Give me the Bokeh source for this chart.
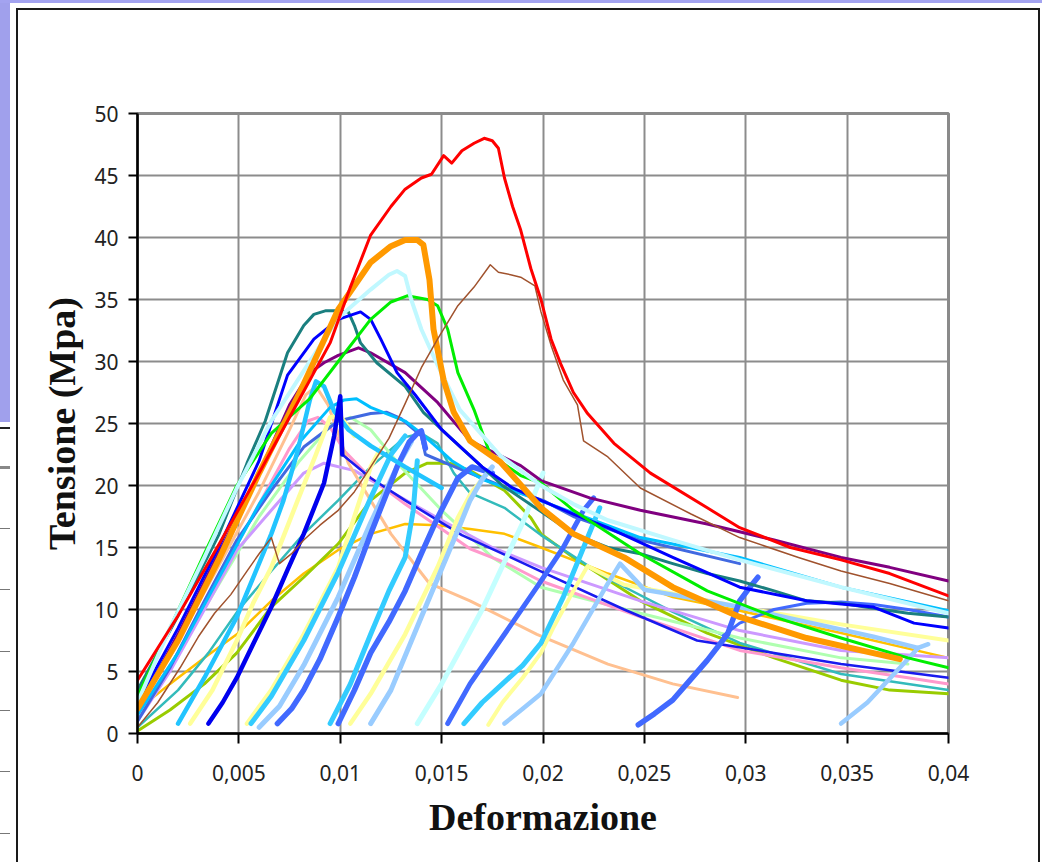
from bokeh.plotting import figure
from bokeh.models import Range1d, FixedTicker
from bokeh.embed import file_html
from bokeh.resources import INLINE

# ---------------- axis ticks ----------------
x_ticks = [0, 0.005, 0.01, 0.015, 0.02, 0.025, 0.03, 0.035, 0.04]
x_tick_labels = ["0", "0,005", "0,01", "0,015", "0,02", "0,025", "0,03", "0,035", "0,04"]
y_ticks = [0, 5, 10, 15, 20, 25, 30, 35, 40, 45, 50]

# ---------------- full curves ----------------
red_x = [0, 0.002, 0.004, 0.006, 0.008, 0.0095, 0.0105, 0.0115, 0.0125, 0.0132, 0.014, 0.0145, 0.0151, 0.0155, 0.016, 0.0166, 0.0171, 0.0175, 0.0178, 0.0181, 0.0185, 0.0189, 0.0194, 0.0199, 0.0204, 0.0209, 0.0215, 0.0222, 0.0235, 0.0253, 0.0281, 0.0297, 0.0322, 0.0347, 0.0371, 0.04]
red_y = [4.3, 9.5, 15.2, 21.0, 27.0, 31.5, 36.0, 40.2, 42.5, 43.9, 44.8, 45.1, 46.6, 46.0, 47.0, 47.6, 48.0, 47.8, 47.2, 44.8, 42.5, 40.6, 37.5, 35.0, 31.8, 29.7, 27.5, 25.8, 23.4, 21.0, 18.2, 16.6, 15.0, 14.0, 12.9, 11.1]

brown_x = [0, 0.001, 0.0021, 0.003, 0.0038, 0.0046, 0.0054, 0.006, 0.0066, 0.007, 0.0076, 0.0082, 0.009, 0.0099, 0.0107, 0.0115, 0.0124, 0.0132, 0.014, 0.0148, 0.0158, 0.0166, 0.0174, 0.0178, 0.0184, 0.0189, 0.0196, 0.0199, 0.0204, 0.021, 0.0217, 0.022, 0.0232, 0.0248, 0.0273, 0.0297, 0.0326, 0.0347, 0.0371, 0.04]
brown_y = [0.5, 2.5, 5.3, 7.8, 9.7, 11.2, 13.1, 14.5, 15.8, 13.7, 14.5, 15.6, 16.8, 18.0, 19.5, 21.5, 23.8, 26.6, 29.5, 31.8, 34.5, 36.0, 37.8, 37.2, 37.0, 36.8, 36.1, 34.0, 31.3, 28.5, 26.5, 23.6, 22.3, 19.8, 17.7, 15.8, 14.2, 13.1, 12.1, 10.7]

orange_x = [0, 0.002, 0.004, 0.006, 0.008, 0.0099, 0.0115, 0.0125, 0.0132, 0.0138, 0.0141, 0.0144, 0.0146, 0.0151, 0.0156, 0.0164, 0.0179, 0.0199, 0.0215, 0.024, 0.0264, 0.0297, 0.033, 0.0376]
orange_y = [2.0, 7.5, 14.0, 21.0, 27.5, 34.2, 38.0, 39.3, 39.8, 39.8, 39.4, 36.6, 32.6, 28.5, 25.9, 23.6, 21.9, 18.2, 16.1, 14.2, 11.8, 9.4, 7.7, 6.0]

pcyan_x = [0, 0.0016, 0.0033, 0.0049, 0.0066, 0.0083, 0.0099, 0.0115, 0.0124, 0.0128, 0.0132, 0.0135, 0.014, 0.0148, 0.0159, 0.0179, 0.0199, 0.0215, 0.0232, 0.0264, 0.0297, 0.0347, 0.04]
pcyan_y = [2.5, 8.5, 14.2, 19.8, 25.2, 29.5, 33.5, 35.8, 37.0, 37.3, 36.9, 35.0, 32.6, 29.7, 26.1, 22.4, 20.0, 18.5, 17.2, 15.6, 14.0, 11.8, 9.7]

green_x = [0, 0.0016, 0.0033, 0.0049, 0.0066, 0.0085, 0.0099, 0.0115, 0.0125, 0.0133, 0.0143, 0.0148, 0.0153, 0.0158, 0.0166, 0.0174, 0.0189, 0.0199, 0.0215, 0.0248, 0.0281, 0.0314, 0.0347, 0.038, 0.04]
green_y = [3.0, 8.5, 14.5, 20.0, 24.2, 27.0, 30.0, 33.4, 34.8, 35.3, 35.0, 34.5, 32.6, 29.1, 26.1, 22.5, 20.8, 20.2, 18.0, 14.5, 11.5, 9.4, 7.7, 6.1, 5.3]

teal_x = [0, 0.002, 0.004, 0.0054, 0.0063, 0.0074, 0.0082, 0.0087, 0.0093, 0.0099, 0.0104, 0.0107, 0.011, 0.0118, 0.0132, 0.0141, 0.016, 0.018, 0.0199, 0.0215, 0.0232, 0.0248, 0.0264, 0.0281, 0.0297, 0.0314, 0.033, 0.0347, 0.0363, 0.038, 0.04]
teal_y = [3.5, 9.5, 16.0, 21.8, 25.2, 30.7, 32.9, 33.8, 34.1, 34.1, 34.0, 32.9, 31.5, 29.9, 28.0, 25.9, 23.0, 20.0, 17.9, 16.1, 15.0, 14.5, 13.7, 12.9, 12.3, 11.5, 10.7, 10.5, 10.1, 9.7, 9.4]

blue_x = [0, 0.002, 0.004, 0.006, 0.0074, 0.0087, 0.0099, 0.011, 0.0115, 0.012, 0.0128, 0.0137, 0.015, 0.017, 0.0185, 0.0199, 0.0215, 0.0232, 0.0264, 0.0297, 0.033, 0.0363, 0.0383, 0.04]
blue_y = [2.5, 8.5, 15.0, 22.0, 28.9, 31.8, 33.4, 34.0, 33.4, 31.8, 29.1, 27.3, 24.5, 21.5, 19.8, 18.8, 17.7, 16.6, 14.2, 11.8, 10.7, 10.2, 8.9, 8.5]

blue2_x = [0.0035, 0.0042, 0.0049, 0.0057, 0.0066, 0.0074, 0.0082, 0.0092, 0.0097, 0.01, 0.0101]
blue2_y = [0.8, 2.5, 4.5, 7.2, 10.2, 13.2, 16.1, 20.2, 24.0, 27.2, 22.5]
blue2t_x = [0.0101, 0.0115, 0.0132, 0.016, 0.02, 0.024, 0.0276, 0.0314, 0.0347, 0.04]
blue2t_y = [22.5, 20.6, 18.8, 16.0, 13.0, 10.0, 7.5, 6.5, 5.6, 4.5]

purple_x = [0, 0.002, 0.004, 0.006, 0.0075, 0.0085, 0.0092, 0.0099, 0.0109, 0.0115, 0.0132, 0.0148, 0.0164, 0.0189, 0.0199, 0.0223, 0.0248, 0.0281, 0.0314, 0.0347, 0.0371, 0.04]
purple_y = [2.0, 8.0, 14.5, 21.0, 26.5, 29.1, 29.9, 30.5, 31.1, 30.7, 29.1, 26.7, 23.6, 21.6, 20.4, 19.0, 18.0, 16.9, 15.6, 14.2, 13.4, 12.3]

sky1_x = [0.002, 0.0033, 0.0049, 0.0066, 0.0072, 0.0079, 0.0085, 0.0088, 0.0092, 0.0097, 0.0104, 0.0115, 0.0132, 0.015]
sky1_y = [0.8, 4.5, 9.4, 16.1, 18.8, 22.8, 26.9, 28.4, 28.0, 26.0, 24.5, 23.2, 21.5, 19.8]

sky2_x = [0, 0.002, 0.004, 0.006, 0.008, 0.0095, 0.0102, 0.0108, 0.0115, 0.0132, 0.014, 0.0155, 0.017, 0.019, 0.0215, 0.0248, 0.0297, 0.0347, 0.04]
sky2_y = [1.5, 6.5, 12.5, 18.5, 23.5, 26.3, 26.9, 27.0, 26.3, 25.2, 24.2, 22.0, 20.5, 19.3, 17.8, 15.8, 14.2, 11.8, 9.9]

royal_x = [0, 0.0016, 0.0033, 0.0049, 0.0066, 0.0082, 0.0099, 0.0115, 0.0123, 0.013, 0.014, 0.0142, 0.0155, 0.017, 0.0185, 0.02, 0.0215, 0.0248, 0.0297]
royal_y = [1.0, 5.3, 10.7, 15.6, 19.6, 23.1, 25.2, 25.8, 25.9, 25.4, 24.0, 22.5, 21.6, 20.6, 19.6, 18.8, 17.5, 15.6, 13.7]

pink_x = [0, 0.002, 0.004, 0.006, 0.0075, 0.0084, 0.0089, 0.0095, 0.0102, 0.0115, 0.0132, 0.015, 0.0164, 0.0181, 0.0199, 0.0248, 0.0297, 0.0347, 0.038, 0.04]
pink_y = [1.5, 6.5, 12.5, 18.5, 23.0, 25.2, 25.5, 24.7, 22.8, 20.6, 18.5, 16.5, 14.9, 13.8, 12.3, 9.4, 6.7, 5.3, 4.5, 4.0]

lav_x = [0, 0.0016, 0.0033, 0.0049, 0.0066, 0.0082, 0.0092, 0.0107, 0.0125, 0.015, 0.0175, 0.0199, 0.0248, 0.0297, 0.0347, 0.04]
lav_y = [1.0, 5.0, 10.0, 14.8, 18.0, 21.0, 21.8, 21.2, 19.5, 17.2, 15.0, 13.4, 10.7, 8.3, 6.7, 6.1]

peach_x = [0, 0.002, 0.004, 0.006, 0.0075, 0.0083, 0.0088, 0.0094, 0.0099, 0.0104, 0.0115, 0.0125, 0.0144, 0.0164, 0.0197, 0.0232, 0.0264, 0.0296]
peach_y = [2.0, 7.5, 13.5, 19.5, 24.5, 27.3, 28.0, 26.5, 24.2, 21.8, 18.8, 16.1, 12.1, 10.7, 8.0, 5.6, 4.0, 2.9]

gold_x = [0, 0.0016, 0.0033, 0.0049, 0.0066, 0.0082, 0.0099, 0.0115, 0.0132, 0.0148, 0.0164, 0.0181, 0.0199, 0.0232, 0.0264, 0.0297, 0.0347, 0.04]
gold_y = [1.9, 4.0, 6.1, 8.0, 10.7, 12.9, 14.8, 16.1, 16.9, 16.8, 16.5, 16.1, 15.0, 12.9, 11.0, 9.9, 8.1, 6.1]

ygreen_x = [0, 0.0016, 0.0033, 0.0049, 0.0066, 0.0082, 0.0099, 0.0115, 0.0132, 0.0143, 0.0154, 0.0164, 0.0181, 0.0194, 0.0199, 0.0215, 0.0248, 0.0281, 0.0314, 0.0347, 0.0371, 0.04]
ygreen_y = [0.2, 1.9, 4.0, 6.5, 10.2, 12.6, 15.3, 18.8, 21.0, 21.8, 21.8, 21.2, 19.6, 17.4, 16.1, 14.2, 10.7, 8.1, 6.1, 4.3, 3.5, 3.2]

lsg_x = [0, 0.002, 0.0035, 0.005, 0.0066, 0.0082, 0.0099, 0.0115, 0.0132, 0.014, 0.0148, 0.0156, 0.0164, 0.0181, 0.0199, 0.0232, 0.0264, 0.0297, 0.0347, 0.04]
lsg_y = [0.5, 3.5, 6.5, 10.0, 13.1, 16.1, 18.8, 21.5, 23.9, 24.2, 23.4, 21.0, 19.4, 18.2, 16.0, 12.5, 9.8, 7.3, 4.8, 3.5]

pgreen_x = [0, 0.002, 0.004, 0.006, 0.008, 0.0095, 0.0105, 0.0115, 0.013, 0.015, 0.0175, 0.0199, 0.0248, 0.0297, 0.0347, 0.038]
pgreen_y = [1.5, 6.5, 12.0, 17.5, 22.0, 24.8, 25.5, 24.5, 21.5, 18.0, 14.2, 11.8, 9.7, 7.7, 6.1, 5.6]

# ---------------- reloading branches ----------------
yel1_x = [0.0026, 0.0037, 0.0049, 0.0057, 0.0066, 0.0079, 0.0088, 0.0095, 0.01, 0.0107]
yel1_y = [0.8, 3.5, 7.5, 10.5, 13.4, 18.8, 22.5, 25.5, 25.6, 24.0]
yel2_x = [0.0054, 0.0066, 0.0082, 0.0099, 0.0107, 0.0115, 0.012]
yel2_y = [0.8, 3.5, 8.0, 13.4, 17.5, 21.5, 23.0]
yel3_x = [0.0105, 0.0115, 0.0132, 0.0148, 0.0158, 0.0165, 0.017]
yel3_y = [0.8, 3.2, 8.0, 13.4, 17.4, 19.5, 20.5]
yel4_x = [0.0173, 0.018, 0.019, 0.0199, 0.0205, 0.0215, 0.0222, 0.024, 0.0264, 0.0297, 0.0347, 0.04]
yel4_y = [0.7, 2.5, 4.5, 6.5, 8.5, 11.5, 13.5, 12.0, 11.3, 10.2, 8.8, 7.5]

rsky_x = [0.0056, 0.0066, 0.0082, 0.0099, 0.0115, 0.0125, 0.0132]
rsky_y = [0.8, 3.0, 7.5, 13.0, 19.0, 22.5, 24.0]
rlb1_x = [0.006, 0.007, 0.0082, 0.0099, 0.0115, 0.0128, 0.0135]
rlb1_y = [0.5, 2.2, 5.5, 11.0, 17.0, 21.5, 23.5]
rroy1_x = [0.0069, 0.0076, 0.0082, 0.009, 0.0099, 0.0107, 0.0115, 0.0122, 0.0128, 0.0134, 0.0138, 0.014, 0.0142]
rroy1_y = [0.8, 2.0, 3.5, 6.0, 9.4, 12.6, 16.1, 19.0, 21.5, 23.5, 24.2, 24.4, 23.0]
rsky2_x = [0.0095, 0.0105, 0.0115, 0.0124, 0.0132, 0.0136, 0.0138]
rsky2_y = [0.8, 4.0, 8.0, 11.5, 14.2, 18.0, 22.0]
rroy2_x = [0.0099, 0.0107, 0.0115, 0.0124, 0.0132, 0.014, 0.0148, 0.0158, 0.0165, 0.0175]
rroy2_y = [0.8, 3.5, 6.5, 9.0, 11.5, 14.5, 17.4, 20.6, 21.5, 21.0]
rlb2_x = [0.0115, 0.0125, 0.014, 0.0156, 0.0164, 0.017, 0.0175]
rlb2_y = [0.8, 3.5, 9.4, 15.6, 18.8, 20.5, 21.5]
rpc_x = [0.0138, 0.015, 0.016, 0.017, 0.018, 0.019, 0.0195, 0.02]
rpc_y = [0.8, 4.0, 7.0, 10.0, 13.5, 17.0, 19.0, 21.0]
rroy3_x = [0.0153, 0.0164, 0.0181, 0.0197, 0.021, 0.022, 0.0225]
rroy3_y = [0.8, 4.0, 8.0, 11.8, 15.0, 18.0, 19.0]
rsky3_x = [0.0161, 0.017, 0.018, 0.019, 0.0199, 0.021, 0.022, 0.0228]
rsky3_y = [0.8, 2.5, 4.0, 5.5, 7.3, 11.0, 15.0, 18.2]
rlb3_x = [0.0181, 0.019, 0.0199, 0.0215, 0.0232, 0.0238, 0.025, 0.0264, 0.0297, 0.033, 0.0363, 0.0385]
rlb3_y = [0.8, 2.0, 3.2, 7.3, 12.1, 13.7, 11.6, 11.2, 10.2, 9.0, 7.8, 6.9]
rroy4_x = [0.0247, 0.0255, 0.0264, 0.0272, 0.0281, 0.0291, 0.0297, 0.0303, 0.0306]
rroy4_y = [0.7, 1.6, 2.7, 4.2, 5.9, 8.0, 10.7, 12.0, 12.6]
roytail_x = [0.0289, 0.0297, 0.0314, 0.033, 0.0347, 0.0363, 0.038, 0.04]
roytail_y = [7.9, 8.9, 10.0, 10.5, 10.6, 10.4, 10.0, 9.4]
rlb4_x = [0.0347, 0.036, 0.0376, 0.0385, 0.039]
rlb4_y = [0.8, 2.5, 5.3, 6.9, 7.2]

# drawing order, colour, width
series = [
    (gold_x, gold_y, "#ffc000", 2.5),
    (ygreen_x, ygreen_y, "#99cc00", 3),
    (lsg_x, lsg_y, "#33bbbb", 2.5),
    (pgreen_x, pgreen_y, "#b0ffb0", 3),
    (lav_x, lav_y, "#cc99ff", 3),
    (pink_x, pink_y, "#ff99cc", 3),
    (peach_x, peach_y, "#ffc090", 3),
    (royal_x, royal_y, "#4169e1", 3),
    (sky2_x, sky2_y, "#00bfff", 3),
    (blue2t_x, blue2t_y, "#1a1aee", 2.5),
    (yel1_x, yel1_y, "#ffff99", 4.5),
    (yel2_x, yel2_y, "#ffff99", 4.5),
    (yel3_x, yel3_y, "#ffff99", 4.5),
    (yel4_x, yel4_y, "#ffff99", 4),
    (rsky_x, rsky_y, "#33ccff", 5),
    (rlb1_x, rlb1_y, "#99ccff", 5),
    (rroy1_x, rroy1_y, "#4169ff", 5.5),
    (rsky2_x, rsky2_y, "#33ccff", 5),
    (rroy2_x, rroy2_y, "#4169ff", 5.5),
    (rlb2_x, rlb2_y, "#99ccff", 5),
    (rpc_x, rpc_y, "#c4ffff", 5),
    (rroy3_x, rroy3_y, "#4169ff", 5),
    (rsky3_x, rsky3_y, "#33ccff", 5),
    (rlb3_x, rlb3_y, "#99ccff", 4.5),
    (rroy4_x, rroy4_y, "#4169ff", 5.5),
    (roytail_x, roytail_y, "#4169ff", 3),
    (rlb4_x, rlb4_y, "#99ccff", 4.5),
    (sky1_x, sky1_y, "#22c4ff", 4.5),
    (blue2_x, blue2_y, "#0000ee", 4.5),
    (purple_x, purple_y, "#800080", 3),
    (teal_x, teal_y, "#1a7f7f", 3),
    (blue_x, blue_y, "#0000ff", 3),
    (green_x, green_y, "#00ee00", 3),
    (pcyan_x, pcyan_y, "#c0f8ff", 4),
    (orange_x, orange_y, "#ff9900", 6),
    (brown_x, brown_y, "#a0522d", 1.5),
    (red_x, red_y, "#ff0000", 3),
]

bg_layers = [
    "linear-gradient(#a3a3f0,#a3a3f0) 0px 0px / 1042px 3px no-repeat",
    "linear-gradient(#a0a0ec,#a0a0ec) 0px 0px / 10px 422px no-repeat",
    "linear-gradient(#1a1a1a,#1a1a1a) 16px 8px / 2px 854px no-repeat",
    "linear-gradient(#1a1a1a,#1a1a1a) 16px 8px / 1024px 2px no-repeat",
    "linear-gradient(#1a1a1a,#1a1a1a) 1038px 8px / 2px 854px no-repeat",
    "linear-gradient(#222222,#222222) 0px 427px / 10px 2px no-repeat",
    "linear-gradient(#888888,#888888) 0px 466px / 10px 3px no-repeat",
]
for yy in [528, 589, 651, 710, 771, 833]:
    bg_layers.append("linear-gradient(#777777,#777777) 0px %dpx / 10px 1px no-repeat" % yy)
bg = ", ".join(bg_layers) + ", #ffffff"

p = figure(frame_width=811, frame_height=620,
           x_range=Range1d(0, 0.04), y_range=Range1d(0, 50),
           output_backend="svg", toolbar_location=None,
           min_border_left=137, min_border_right=94,
           min_border_top=113, min_border_bottom=129,
           background_fill_color="white", border_fill_color=None,
           outline_line_color="#8a8a8a", outline_line_width=3,
           styles={"background": bg})

for xs, ys, col, w in series:
    p.line(xs, ys, line_color=col, line_width=w, line_join="round", line_cap="round")

p.xaxis.ticker = FixedTicker(ticks=x_ticks)
p.yaxis.ticker = FixedTicker(ticks=y_ticks)
p.xgrid.ticker = FixedTicker(ticks=x_ticks)
p.ygrid.ticker = FixedTicker(ticks=y_ticks)
p.xaxis.major_label_overrides = {t: s for t, s in zip(x_ticks, x_tick_labels)}
p.grid.grid_line_color = "#8c8c8c"
p.grid.grid_line_width = 2

p.axis.axis_line_color = "black"
p.axis.axis_line_width = 2.5
p.axis.major_tick_line_color = "black"
p.axis.major_tick_line_width = 2
p.axis.major_tick_in = 0
p.xaxis.major_tick_out = 10
p.yaxis.major_tick_out = 9
p.axis.minor_tick_line_color = None
p.axis.major_label_text_font = "Noto Sans"
p.axis.major_label_text_font_size = "21px"
p.axis.major_label_text_color = "#222222"
p.xaxis.major_label_standoff = 21
p.yaxis.major_label_standoff = 10

p.xaxis.axis_label = "Deformazione"
p.yaxis.axis_label = "Tensione (Mpa)"
p.axis.axis_label_text_font = "Liberation Serif"
p.axis.axis_label_text_font_style = "bold"
p.axis.axis_label_text_font_size = "38px"
p.axis.axis_label_text_color = "#111111"
p.xaxis.axis_label_standoff = 12
p.yaxis.axis_label_standoff = 8

open("out.html", "w").write(file_html(p, INLINE))
